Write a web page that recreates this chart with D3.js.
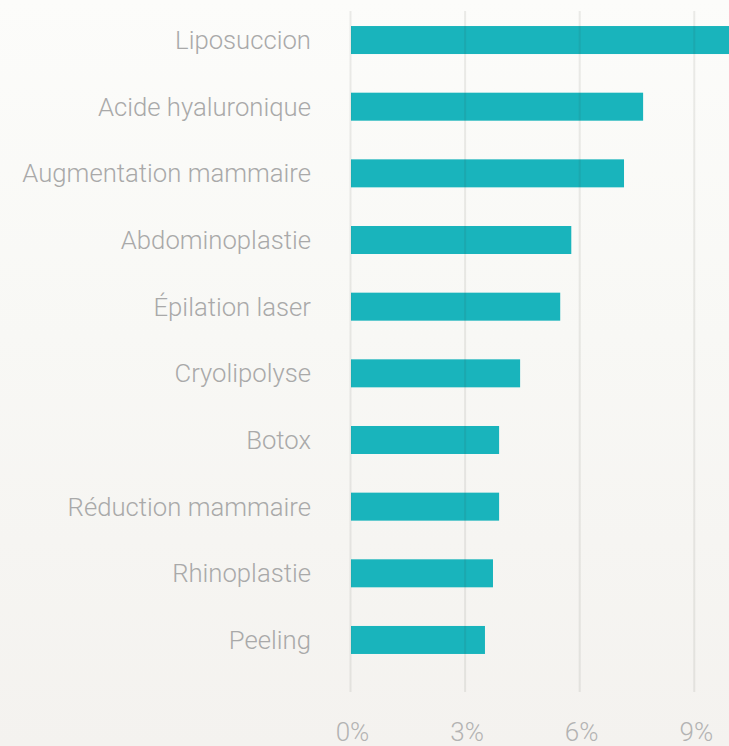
<!DOCTYPE html>
<html><head><meta charset="utf-8">
<script src="https://cdn.jsdelivr.net/npm/d3@7"></script>
<style>
html,body{margin:0;padding:0;overflow:hidden;}
body{width:729px;height:746px;}
text{font-family:"Helvetica Neue",Roboto,"Liberation Sans",Arial,sans-serif;font-weight:300;}
</style></head><body>
<svg id="c" width="729" height="746"></svg>
<script>
const categories = ["Liposuccion","Acide hyaluronique","Augmentation mammaire","Abdominoplastie","Épilation laser","Cryolipolyse","Botox","Réduction mammaire","Rhinoplastie","Peeling"];
const values = [10.4, 7.66, 7.16, 5.78, 5.49, 4.44, 3.89, 3.89, 3.73, 3.52];
const ticks = [0, 3, 6, 9];

const svg = d3.select("#c");
const W = 729, H = 746;
const defs = svg.append("defs");
const g1 = defs.append("linearGradient").attr("id","bg").attr("x1",0).attr("y1",0).attr("x2",0).attr("y2",1);
g1.append("stop").attr("offset","0%").attr("stop-color","#fcfcfa");
g1.append("stop").attr("offset","45%").attr("stop-color","#f8f8f5");
g1.append("stop").attr("offset","100%").attr("stop-color","#f4f2ef");
svg.append("rect").attr("width",W).attr("height",H).attr("fill","url(#bg)");

const x = d3.scaleLinear().domain([0, 1]).range([350.5, 388.7]);
const y = d3.scaleBand().domain(categories).range([6.7, 673.3]).paddingInner(0.58).paddingOuter(0.29);

svg.append("clipPath").attr("id","clip").append("rect").attr("width",W).attr("height",H);

svg.append("g").attr("clip-path","url(#clip)").selectAll("rect.bar").data(categories).join("rect")
  .attr("class","bar")
  .attr("x", x(0)+0.5)
  .attr("y", d => y(d))
  .attr("height", y.bandwidth())
  .attr("width", (d,i) => x(values[i]) - x(0) - 0.5)
  .attr("fill", "#19b4bc");

// gridlines on top
const grid = svg.append("g");
grid.selectAll("line").data(ticks).join("line")
  .attr("x1", d => x(d)).attr("x2", d => x(d))
  .attr("y1", 11).attr("y2", 692)
  .attr("stroke", "rgba(60,50,40,0.09)").attr("stroke-width", 2);

// x tick labels
svg.append("g").selectAll("text").data(ticks).join("text")
  .attr("x", d => x(d)+2).attr("y", 741)
  .attr("text-anchor","middle")
  .attr("font-size", 26)
  .attr("fill", "#b3b3b3")
  .text(d => d + "%");

// category labels
svg.append("g").selectAll("text").data(categories).join("text")
  .attr("x", 311).attr("y", d => y(d) + y.bandwidth()/2)
  .attr("dy", "0.35em")
  .attr("text-anchor","end")
  .attr("font-size", 25.7)
  .attr("fill", "#a9a9a9")
  .text(d => d);
</script></body></html>
